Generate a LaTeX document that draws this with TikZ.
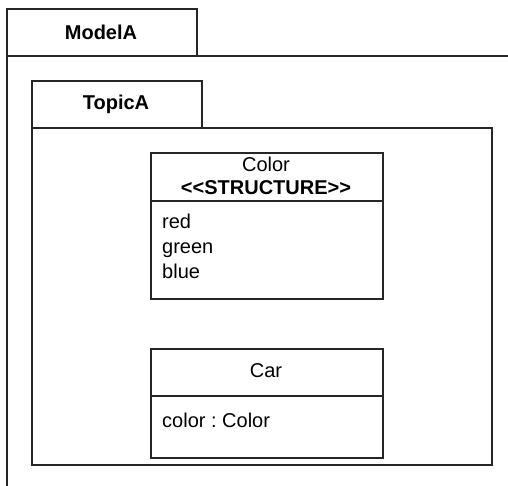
\documentclass[tikz,border=0pt]{standalone}
\usepackage{fontspec}
\setmainfont{Liberation Sans}[Ligatures=NoCommon]
\frenchspacing
\begin{document}
\begin{tikzpicture}[x=1pt,y=-1pt,
  ln/.style={draw=black!85,line width=1.6pt},
  box/.style={ln,anchor=north west,inner sep=0pt},
  txt/.style={font=\fontsize{20}{25}\selectfont\frenchspacing,inner sep=0pt},
  btxt/.style={font=\fontsize{20}{25}\selectfont\bfseries,inner sep=0pt}]
\useasboundingbox (0,0) rectangle (508,486);
\begin{scope}
\clip (0,0) rectangle (508,486);
% ModelA package
\node[box,minimum width=190pt,minimum height=47pt] (mtab) at (6,8) {};
\node[box,minimum width=530pt,minimum height=460pt] (mbody) at (6,55) {};
\end{scope}
\node[btxt] (mlabel) at (101,32) {ModelA};
% TopicA package
\node[box,minimum width=170pt,minimum height=47pt] (ttab) at (31,80) {};
\node[box,minimum width=460pt,minimum height=337pt] (tbody) at (31,127) {};
\node[btxt] (tlabel) at (116,104) {TopicA};
% Color structure
\node[box,minimum width=232pt,minimum height=146pt] (color) at (150,152) {};
\coordinate (cs1) at (150,201);
\coordinate (cs2) at (382,201);
\draw[ln] (cs1) -- (cs2);
\node[txt] (cname) at (266,164) {Color};
\node[btxt] (cster) at (266,188) {\textless\kern0pt\textless STRUCTURE\textgreater\kern0pt\textgreater};
\node[txt,anchor=north west,align=left] (cattr) at (162,214) {red\\green\\blue};
% Car class
\node[box,minimum width=232pt,minimum height=109pt] (car) at (150,348) {};
\coordinate (ks1) at (150,396);
\coordinate (ks2) at (382,396);
\draw[ln] (ks1) -- (ks2);
\node[txt] (kname) at (266,371) {Car};
\node[txt,anchor=west] (kattr) at (162,420) {color\ :\ Color};
\end{tikzpicture}
\end{document}
